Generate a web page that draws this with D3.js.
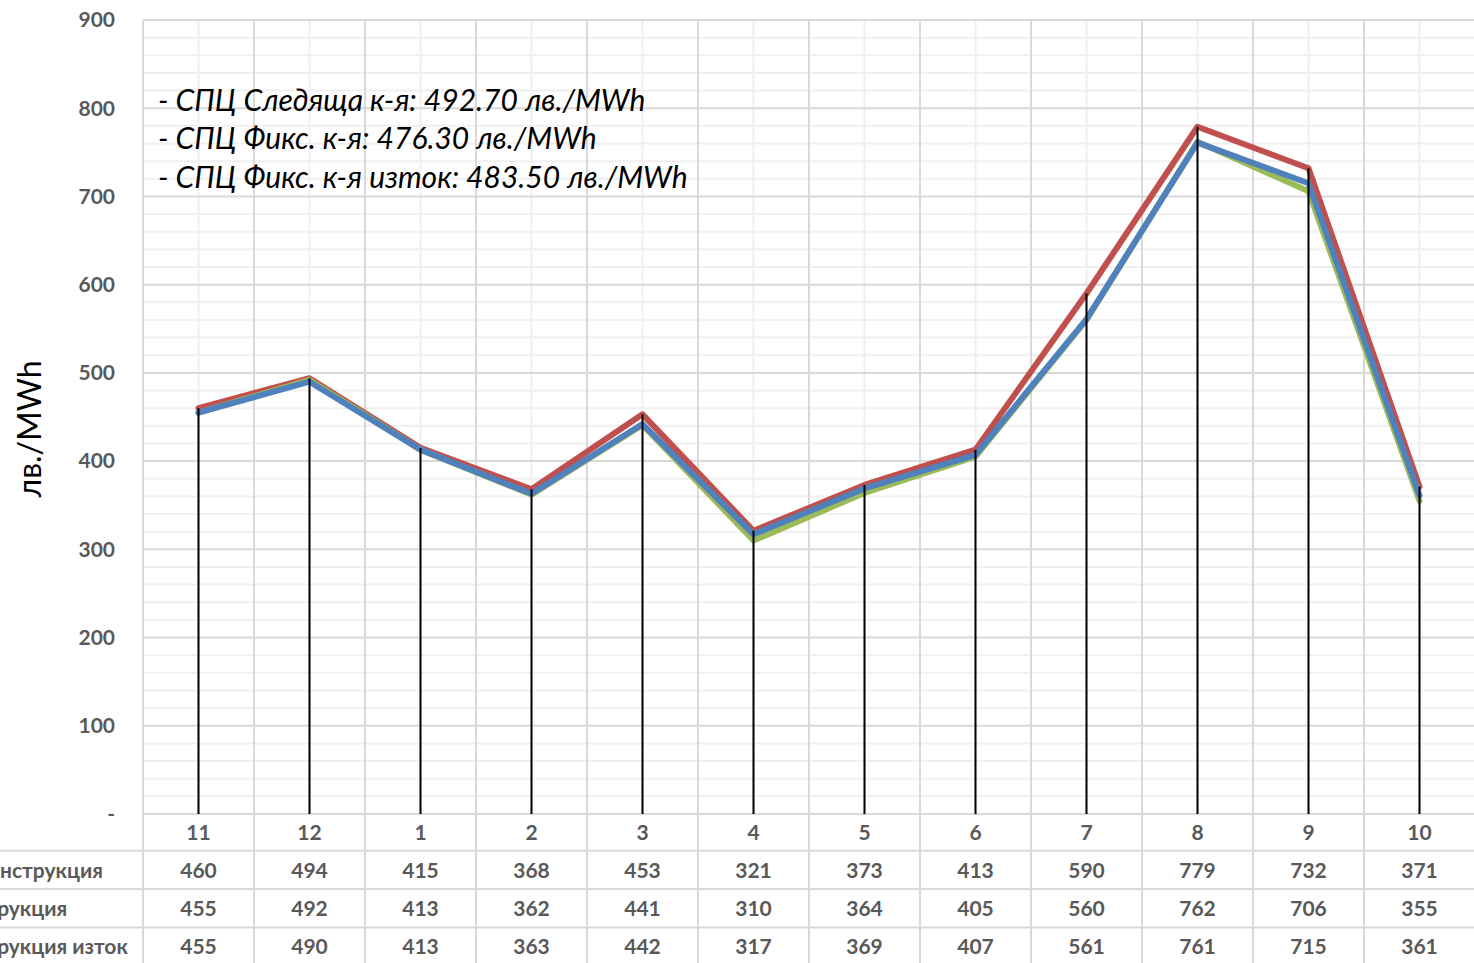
<!DOCTYPE html>
<html>
<head>
<meta charset="utf-8">
<script src="https://cdn.jsdelivr.net/npm/d3@7"></script>
<style>
  html, body { margin: 0; padding: 0; background: #fff; }
  svg { display: block; }
</style>
</head>
<body>
<svg id="chart" width="1474" height="963"></svg>
<script>
const categories = ["11", "12", "1", "2", "3", "4", "5", "6", "7", "8", "9", "10"];
const seriesNames = ["Следяща конструкция", "Фикс. конструкция", "Фикс. конструкция изток"];
const trackingValues = [460, 494, 415, 368, 453, 321, 373, 413, 590, 779, 732, 371];
const fixedValues = [455, 492, 413, 362, 441, 310, 364, 405, 560, 762, 706, 355];
const fixedEastValues = [455, 490, 413, 363, 442, 317, 369, 407, 561, 761, 715, 361];
const seriesColors = ["#C0504D", "#9BBB59", "#4F81BD"];
const yTicks = [0, 100, 200, 300, 400, 500, 600, 700, 800, 900];
const annotations = [
  "- СПЦ Следяща к-я: 492.70 лв./MWh",
  "- СПЦ Фикс. к-я: 476.30 лв./MWh",
  "- СПЦ Фикс. к-я изток: 483.50 лв./MWh"
];
const yTitle = "лв./MWh";

const series = [trackingValues, fixedValues, fixedEastValues];

const svg = d3.select("#chart");
const W = 1474, H = 963;
const plot = { left: 143, right: 1475, top: 20, bottom: 814 };
const rowH = 38.3;
const font = "Lato, 'Open Sans', sans-serif";
const gray = "#595959";
const labelSize = 21;

const x = d3.scaleBand().domain(categories).range([plot.left, plot.right]).padding(0);
const y = d3.scaleLinear().domain([0, 900]).range([plot.bottom, plot.top]);
const cx = c => x(c) + x.bandwidth() / 2;

// minor horizontal gridlines
const minor = d3.range(0, 901, 20).filter(v => v % 100 !== 0);
svg.append("g").selectAll("line").data(minor).join("line")
  .attr("x1", plot.left).attr("x2", plot.right)
  .attr("y1", d => y(d)).attr("y2", d => y(d))
  .attr("stroke", "#f0f0f0").attr("stroke-width", 2);
// minor vertical gridlines (category centers)
svg.append("g").selectAll("line").data(categories).join("line")
  .attr("x1", d => cx(d)).attr("x2", d => cx(d))
  .attr("y1", plot.top).attr("y2", plot.bottom)
  .attr("stroke", "#f0f0f0").attr("stroke-width", 2);
// major horizontal gridlines
svg.append("g").selectAll("line").data(yTicks).join("line")
  .attr("x1", plot.left).attr("x2", plot.right)
  .attr("y1", d => y(d)).attr("y2", d => y(d))
  .attr("stroke", "#d9d9d9").attr("stroke-width", 2);
// major vertical gridlines (category boundaries) extend through table
const bounds = categories.map(c => x(c)).concat([plot.right]);
svg.append("g").selectAll("line").data(bounds).join("line")
  .attr("x1", d => d).attr("x2", d => d)
  .attr("y1", plot.top).attr("y2", H)
  .attr("stroke", "#d9d9d9").attr("stroke-width", 2);

// table horizontal lines
const tableLines = [1, 2, 3].map(i => plot.bottom + rowH * i - 1.5);
svg.append("g").selectAll("line").data(tableLines).join("line")
  .attr("x1", 0).attr("x2", W)
  .attr("y1", d => d).attr("y2", d => d)
  .attr("stroke", "#d9d9d9").attr("stroke-width", 2);

// y axis labels
svg.append("g").selectAll("text").data(yTicks).join("text")
  .attr("x", 115).attr("y", d => y(d)).attr("dy", "0.35em")
  .attr("text-anchor", "end")
  .attr("font-family", font).attr("font-weight", "bold").attr("font-size", labelSize)
  .attr("fill", gray)
  .text(d => d === 0 ? "-" : d3.format("d")(d));

// y title
svg.append("text")
  .attr("transform", "translate(41,429) rotate(-90)")
  .attr("text-anchor", "middle")
  .attr("font-family", font).attr("font-size", 32).attr("fill", "#000")
  .text(yTitle);

// category labels
svg.append("g").selectAll("text").data(categories).join("text")
  .attr("x", d => cx(d)).attr("y", plot.bottom + rowH / 2 - 1).attr("dy", "0.35em")
  .attr("text-anchor", "middle")
  .attr("font-family", font).attr("font-weight", "bold").attr("font-size", labelSize)
  .attr("fill", gray).text(d => d);

// table values
series.forEach((vals, i) => {
  svg.append("g").selectAll("text").data(vals).join("text")
    .attr("x", (d, j) => cx(categories[j]))
    .attr("y", plot.bottom + rowH * (i + 1) + rowH / 2 - 1).attr("dy", "0.35em")
    .attr("text-anchor", "middle")
    .attr("font-family", font).attr("font-weight", "bold").attr("font-size", labelSize)
    .attr("fill", gray).text(d => d);
});

// series labels (left column, clipped by window edge as in the reference)
const tmp = svg.append("text").attr("font-family", font).attr("font-weight", "bold")
  .attr("font-size", labelSize).text("Следяща ко");
const prefixW = tmp.node().getComputedTextLength();
tmp.remove();
seriesNames.forEach((name, i) => {
  svg.append("text")
    .attr("x", -prefixW).attr("y", plot.bottom + rowH * (i + 1) + rowH / 2 - 1).attr("dy", "0.35em")
    .attr("font-family", font).attr("font-weight", "bold").attr("font-size", labelSize)
    .attr("fill", gray).text(name);
});

// series lines
const line = d3.line().x((d, j) => cx(categories[j])).y(d => y(d));
series.forEach((vals, i) => {
  svg.append("path").datum(vals)
    .attr("d", line)
    .attr("fill", "none").attr("stroke", seriesColors[i])
    .attr("stroke-width", 6).attr("stroke-linejoin", "round").attr("stroke-linecap", "round");
});

// drop lines
const maxVals = categories.map((c, j) => d3.max(series, s => s[j]));
svg.append("g").selectAll("line").data(maxVals).join("line")
  .attr("x1", (d, j) => cx(categories[j])).attr("x2", (d, j) => cx(categories[j]))
  .attr("y1", d => y(d)).attr("y2", plot.bottom)
  .attr("stroke", "#000").attr("stroke-width", 2);

// annotations
svg.append("g").selectAll("text").data(annotations).join("text")
  .attr("x", 158).attr("y", (d, i) => 100 + i * 38.5).attr("dy", "0.35em")
  .attr("font-family", font).attr("font-style", "italic").attr("font-size", 30)
  .attr("fill", "#000").text(d => d);
</script>
</body>
</html>
